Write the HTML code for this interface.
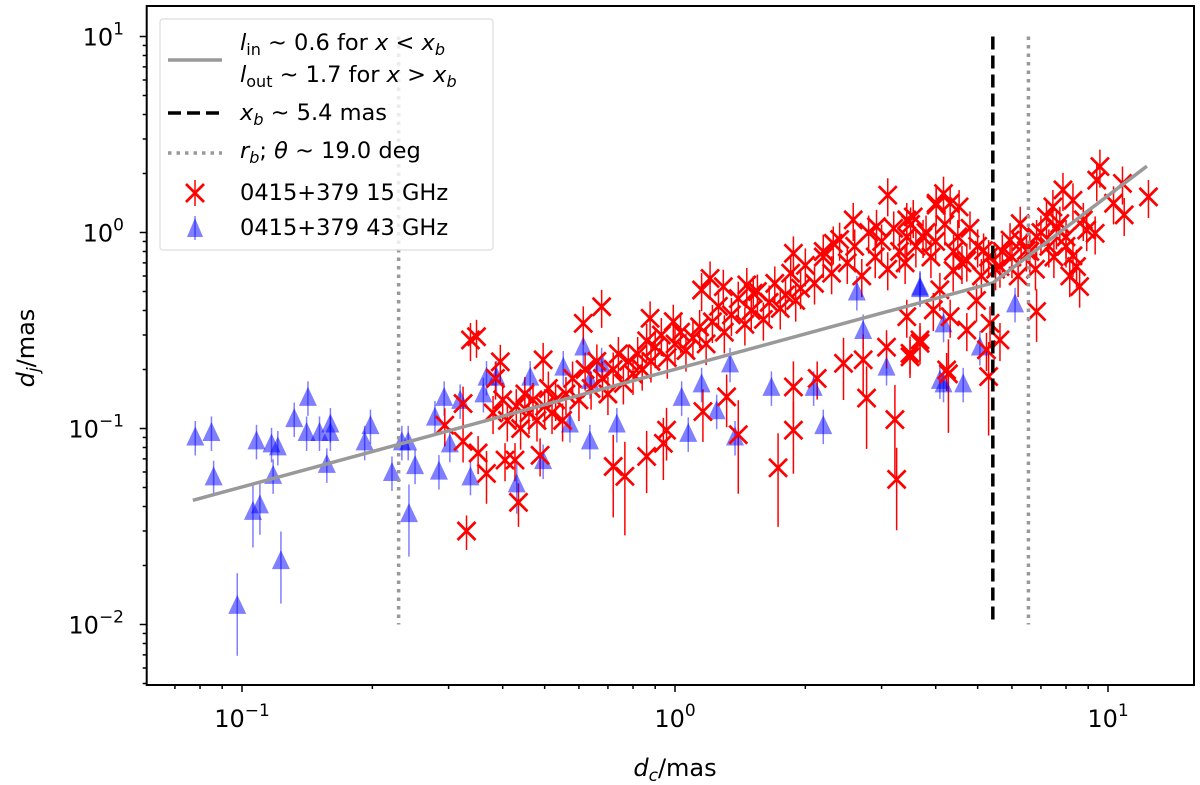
<!DOCTYPE html>
<html><head><meta charset="utf-8"><style>
html,body{margin:0;padding:0;background:#fff;}
svg{display:block;font-family:"DejaVu Sans","Liberation Sans",sans-serif;}
</style></head><body>
<svg id="chart" width="1200" height="785" viewBox="0 0 1200 785">
<g id="errs"></g>
<g id="marks"></g>
<g id="lines"></g>
<g id="axes"></g>
<g id="legend"></g>
</svg>
<script>
// ---- data ----
const xTickVals=[0.1,1,10];
const xTickExp=["−1","0","1"];
const yTickVals=[0.01,0.1,1,10];
const yTickExp=["−2","−1","0","1"];
const xb=5.42, rbInner=0.23, rbOuter=6.55;
const fitX=[0.077,5.42,12.3];
const fitY=[0.043,0.553,2.18];
const redX=[0.33,0.435,0.367,0.72,0.766,0.86,0.94,0.956,1.16,1.316,1.40,1.73,1.877,1.877,2.77,3.22,3.25,4.28,5.3,6.84,2.45,2.72,
0.337,0.348,0.395,0.385,0.496,0.324,0.294,0.324,0.351,0.405,0.427,0.488,
0.614,0.677,0.876,0.991,1.205,1.152,1.293,1.465,1.516,1.877,2.58,3.10,4.01,4.17,3.43,2.92,2.32,2.20,3.08,3.49,3.68,4.24,2.13,
9.58,9.42,10.8,12.4,10.9,10.3,9.34,7.87,8.3,7.46,7.21,7.74,8.77,8.93,8.0,8.3,8.46,8.16,8.6,6.48,5.94,6.27,6.84,5.63,5.16,4.72,4.39,4.09,4.32,4.01,4.53,3.55,3.74,3.43,4.97,5.34,5.63,5.24,4.72,4.32,3.49,3.68,3.43,3.95,
0.38,0.40,0.41,0.43,0.44,0.45,0.46,0.47,0.48,0.50,0.51,0.52,0.53,0.55,
0.56,0.58,0.6,0.62,0.64,0.66,0.68,0.7,0.72,0.74,0.76,0.78,0.8,
0.82,0.84,0.86,0.88,0.9,0.93,0.96,1.0,1.03,1.06,1.1,1.14,1.18,
1.22,1.26,1.3,1.35,1.4,1.45,1.5,1.55,1.6,1.65,1.7,1.75,1.8,1.85,1.9,1.95,
2.0,2.1,2.2,2.3,2.4,2.5,2.6,2.7,2.8,2.9,3.0,3.1,3.2,3.3,3.4,3.5,
3.6,3.8,3.9,4.0,4.2,4.4,4.5,4.6,4.8,5.0,5.1,5.3,5.5,5.7,
6.0,6.3,6.6,7.0,7.3,7.6,8.0,6.2,6.8,7.5];
const redY=[0.030,0.042,0.059,0.064,0.057,0.072,0.084,0.098,0.122,0.145,0.093,0.063,0.098,0.163,0.143,0.111,0.055,0.19,0.184,0.395,0.215,0.224,
0.283,0.294,0.219,0.18,0.224,0.134,0.104,0.086,0.075,0.069,0.069,0.073,
0.344,0.418,0.365,0.351,0.583,0.509,0.529,0.54,0.49,0.783,1.16,1.55,1.38,1.58,1.16,1.07,0.88,0.75,0.26,0.242,0.283,0.199,0.18,
2.17,1.85,1.78,1.52,1.23,1.41,0.99,1.65,1.46,1.35,1.2,1.11,1.16,1.03,0.85,0.76,0.67,0.6,0.53,0.81,0.915,1.11,0.95,0.67,0.81,0.72,0.64,0.51,1.41,1.41,1.35,1.2,0.95,0.95,0.45,0.344,0.283,0.252,0.318,0.372,0.232,0.272,0.372,0.403,
0.12,0.14,0.11,0.13,0.10,0.15,0.12,0.14,0.11,0.13,0.16,0.12,0.14,0.11,
0.15,0.18,0.14,0.2,0.16,0.22,0.18,0.15,0.2,0.24,0.17,0.22,0.19,
0.24,0.2,0.28,0.22,0.26,0.3,0.23,0.27,0.31,0.25,0.29,0.33,0.27,
0.35,0.42,0.31,0.38,0.46,0.34,0.4,0.5,0.36,0.44,0.55,0.41,0.48,0.62,0.45,0.52,
0.68,0.55,0.8,0.62,0.92,0.7,0.85,0.6,1.0,0.75,0.9,0.65,1.05,0.8,0.7,1.1,
0.85,1.0,0.75,0.9,1.1,0.8,0.95,0.7,1.05,0.85,0.6,0.75,0.65,0.8,
0.75,0.9,0.8,1.0,0.85,1.05,0.95,0.6,0.65,0.75];
const redErr=[0.2,0.25,0.3,0.45,0.5,0.35,0.35,0.3,0.3,0.3,0.5,0.5,0.4,0.35,0.45,0.5,0.45,0.5,0.5,0.3,0.35,0.35];
const redErrDefault=0.22;
const blueX=[0.0975,0.123,0.106,0.110,0.243,0.431,
0.078,0.085,0.086,0.108,0.117,0.121,0.118,0.142,0.132,0.141,0.151,0.16,0.16,0.157,0.198,0.192,0.222,0.234,0.242,0.251,0.285,0.293,0.279,0.319,0.302,0.337,0.361,0.367,0.387,0.463,0.496,
0.614,0.677,0.552,0.636,0.572,0.636,0.734,1.073,1.152,1.67,2.20,2.63,3.68,3.08,4.17,1.34,2.09,2.72,1.036,1.248,1.376,
3.68,4.63,4.09,5.06,6.1,4.17];
const blueY=[0.0126,0.0213,0.038,0.041,0.037,0.0525,
0.091,0.096,0.057,0.087,0.084,0.081,0.058,0.145,0.113,0.096,0.096,0.106,0.096,0.066,0.104,0.086,0.060,0.086,0.086,0.065,0.061,0.145,0.115,0.14,0.084,0.057,0.151,0.184,0.184,0.184,0.069,
0.262,0.215,0.207,0.177,0.106,0.087,0.106,0.095,0.17,0.163,0.104,0.50,0.53,0.207,0.17,0.215,0.163,0.318,0.145,0.124,0.091,
0.52,0.17,0.177,0.262,0.435,0.344];
const blueErr=[0.45,0.4,0.35,0.3,0.4,0.3];
const blueErrDefault=0.2;

// ---- axes ----
const L=146.7,R=1194,T=6,B=685;
const X0=675,XD=433,Y0=232.5,YD=196;
function sx(v){return X0+XD*Math.log10(v);}
function sy(v){return Y0-YD*Math.log10(v);}
const NS="http://www.w3.org/2000/svg";
function mk(tag,attrs,parent){const e=document.createElementNS(NS,tag);for(const k in attrs)e.setAttribute(k,attrs[k]);parent.appendChild(e);return e;}
const gE=document.getElementById('errs'),gM=document.getElementById('marks'),gL=document.getElementById('lines'),gA=document.getElementById('axes'),gLeg=document.getElementById('legend');

// blue points
for(let i=0;i<blueX.length;i++){
  const x=sx(blueX[i]),y=sy(blueY[i]);
  const er=(i<blueErr.length)?blueErr[i]:blueErrDefault;
  const e=mk('line',{x1:x,x2:x,y1:sy(blueY[i]*(1+er)),y2:sy(blueY[i]*(1-er)),stroke:'rgba(0,0,255,0.5)','stroke-width':1.5},gE);
  
  
  const p=mk('path',{d:`M${x},${y-10}L${x+9},${y+9}L${x-9},${y+9}Z`,fill:'rgba(0,0,255,0.5)'},gM);
  
  
}
// red points
for(let i=0;i<redX.length;i++){
  const x=sx(redX[i]),y=sy(redY[i]);
  const er=(i<redErr.length)?redErr[i]:redErrDefault;
  const e=mk('line',{x1:x,x2:x,y1:sy(redY[i]*(1+er)),y2:sy(redY[i]*(1-er)),stroke:'#f00','stroke-width':1.5},gE);
  
  
  const p=mk('path',{d:`M${x-9},${y-9}L${x+9},${y+9}M${x+9},${y-9}L${x-9},${y+9}`,stroke:'#f00','stroke-width':2.7,fill:'none'},gM);
  
  
}
// reference lines
let fl=mk('polyline',{points:fitX.map((v,i)=>sx(v)+','+sy(fitY[i])).join(' '),stroke:'#999','stroke-width':3.5,fill:'none'},gL);


let dl=mk('line',{x1:sx(xb),x2:sx(xb),y1:sy(10),y2:sy(0.01),stroke:'#000','stroke-width':3.5,'stroke-dasharray':'13,6'},gL);


[rbInner,rbOuter].forEach(v=>{
  const l=mk('line',{x1:sx(v),x2:sx(v),y1:sy(10),y2:sy(0.01),stroke:'#999','stroke-width':3.5,'stroke-dasharray':'3.5,5'},gL);
  
  
});

// axes frame and ticks
let fr=mk('rect',{x:L,y:T,width:R-L,height:B-T,fill:'none',stroke:'#000','stroke-width':2},gA);


for(let d=-2;d<=1;d++){for(let m=1;m<10;m++){
  const v=m*Math.pow(10,d);
  const x=sx(v); if(x>=L&&x<=R){mk('line',{x1:x,x2:x,y1:B,y2:B+(m==1?7:4),stroke:'#000','stroke-width':1.5},gA);}
}}
for(let d=-3;d<=1;d++){for(let m=1;m<10;m++){
  const v=m*Math.pow(10,d);
  const y=sy(v); if(y>=T&&y<=B){mk('line',{x1:L,x2:L-(m==1?7:4),y1:y,y2:y,stroke:'#000','stroke-width':1.5},gA);}
}}
xTickVals.forEach((v,i)=>{
  const t=mk('text',{x:sx(v),y:727,'text-anchor':'middle','font-size':24,fill:'#000'},gA);
  t.innerHTML=`10<tspan dy="-11" font-size="17">${xTickExp[i]}</tspan>`;
  
  
});
yTickVals.forEach((v,i)=>{
  const t=mk('text',{x:124,y:sy(v)+9,'text-anchor':'end','font-size':24,fill:'#000'},gA);
  t.innerHTML=`10<tspan dy="-11" font-size="17">${yTickExp[i]}</tspan>`;
  
  
});
let xt=mk('text',{x:675,y:776,'text-anchor':'middle','font-size':24},gA);
xt.innerHTML='<tspan font-style="italic">d</tspan><tspan font-style="italic" font-size="17" dy="5">c</tspan><tspan dy="-5">/mas</tspan>';


let yt=mk('text',{x:0,y:0,'text-anchor':'middle','font-size':24,transform:'translate(34,348) rotate(-90)'},gA);
yt.innerHTML='<tspan font-style="italic">d</tspan><tspan font-style="italic" font-size="17" dy="5">j</tspan><tspan dy="-5">/mas</tspan>';



// legend
let lb=mk('rect',{x:160,y:19,width:333,height:231,rx:3,fill:'rgba(255,255,255,0.8)',stroke:'#ddd','stroke-width':1.2},gLeg);


mk('line',{x1:168,x2:222,y1:60,y2:60,stroke:'#999','stroke-width':3.5},gLeg);
mk('line',{x1:168,x2:222,y1:113,y2:113,stroke:'#000','stroke-width':3.5,'stroke-dasharray':'13,6'},gLeg);
mk('line',{x1:168,x2:222,y1:153,y2:153,stroke:'#999','stroke-width':3.5,'stroke-dasharray':'3.5,5'},gLeg);
mk('path',{d:'M186,184L204,202M204,184L186,202',stroke:'#f00','stroke-width':2.7},gLeg);
mk('line',{x1:195,x2:195,y1:180,y2:206,stroke:'#f00','stroke-width':1.5},gLeg);
mk('path',{d:'M195,218L203,237L187,237Z',fill:'rgba(0,0,255,0.5)'},gLeg);
mk('line',{x1:195,x2:195,y1:216,y2:240,stroke:'rgba(0,0,255,0.5)','stroke-width':1.5},gLeg);
const legTexts=[
 [50,'<tspan font-style="italic">l</tspan><tspan font-size="16" dy="5">in</tspan><tspan dy="-5"> ~ 0.6 for </tspan><tspan font-style="italic">x</tspan> &lt; <tspan font-style="italic">x</tspan><tspan font-style="italic" font-size="16" dy="5">b</tspan>','legend-fit'],
 [82,'<tspan font-style="italic">l</tspan><tspan font-size="16" dy="5">out</tspan><tspan dy="-5"> ~ 1.7 for </tspan><tspan font-style="italic">x</tspan> &gt; <tspan font-style="italic">x</tspan><tspan font-style="italic" font-size="16" dy="5">b</tspan>','legend-fit-outer'],
 [120,'<tspan font-style="italic">x</tspan><tspan font-style="italic" font-size="16" dy="5">b</tspan><tspan dy="-5"> ~ 5.4 mas</tspan>','legend-xb'],
 [158,'<tspan font-style="italic">r</tspan><tspan font-style="italic" font-size="16" dy="5">b</tspan><tspan dy="-5">;  </tspan><tspan font-style="italic">θ</tspan> ~ 19.0 deg','legend-rb'],
 [200,'0415+379 15 GHz','legend-15ghz'],
 [235,'0415+379 43 GHz','legend-43ghz']];
legTexts.forEach(([y,h,n])=>{
  const t=mk('text',{x:240,y:y,'font-size':22.5,fill:'#000'},gLeg);
  t.innerHTML=h;
  
  
});
</script>
</body></html>
